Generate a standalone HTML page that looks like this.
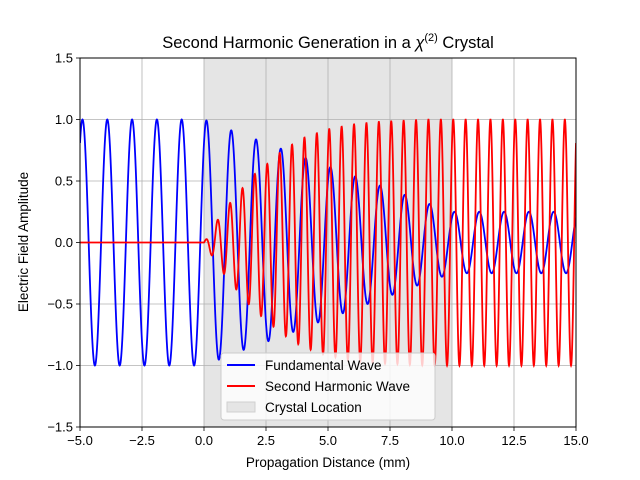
<!DOCTYPE html>
<html><head><meta charset="utf-8"><style>
body{margin:0;background:#fff;}
svg{display:block;font-family:"Liberation Sans","DejaVu Sans",sans-serif;}
</style></head><body>
<svg id="chart" width="640" height="480" viewBox="0 0 640 480"></svg>
<script>
// ---- data ----
const xTicks = [-5, -2.5, 0, 2.5, 5, 7.5, 10, 12.5, 15];
const xTickLabels = ["\u22125.0","\u22122.5","0.0","2.5","5.0","7.5","10.0","12.5","15.0"];
const yTicks = [-1.5, -1, -0.5, 0, 0.5, 1, 1.5];
const yTickLabels = ["\u22121.5","\u22121.0","\u22120.5","0.0","0.5","1.0","1.5"];
const crystalRange = [0, 10];
// envelope sample positions (mm) and amplitudes
const envX = [0, 0.5, 1, 1.5, 2, 2.5, 3, 3.5, 4, 5, 6, 7, 8, 9, 10];
const fundEnv = [1.0, 0.96, 0.92, 0.88, 0.845, 0.81, 0.77, 0.735, 0.695, 0.62, 0.545, 0.47, 0.395, 0.32, 0.25];
const shEnv = [0.0, 0.17, 0.31, 0.43, 0.55, 0.63, 0.72, 0.79, 0.85, 0.92, 0.96, 0.98, 0.99, 1.0, 1.0];
const fundPeriod = 1.0, fundPhase = 0.1;
const shPeriod = 0.5, shPhase = 0.05;

const X0=80, X1=576, Y0=58, Y1=427, xmin=-5, xmax=15, ymin=-1.5, ymax=1.5;
const sx = v => X0 + (v - xmin) / (xmax - xmin) * (X1 - X0);
const sy = v => Y1 - (v - ymin) / (ymax - ymin) * (Y1 - Y0);
const NS = "http://www.w3.org/2000/svg";
const svg = document.getElementById('chart');
function mk(tag, attrs, parent){ const e=document.createElementNS(NS,tag); for(const k in attrs) e.setAttribute(k,attrs[k]); (parent||svg).appendChild(e); return e; }
function interp(xs, ys, x){
  if (x <= xs[0]) return ys[0];
  if (x >= xs[xs.length-1]) return ys[ys.length-1];
  for (let i=1;i<xs.length;i++) if (x<=xs[i]) { const t=(x-xs[i-1])/(xs[i]-xs[i-1]); return ys[i-1]+t*(ys[i]-ys[i-1]); }
}

// crystal shading
const shade = mk('rect',{x:sx(crystalRange[0]),y:Y0,width:sx(crystalRange[1])-sx(crystalRange[0]),height:Y1-Y0,fill:'#e5e5e5'});



// grid
const grid = mk('g',{stroke:'#b0b0b0','stroke-width':0.8});


xTicks.forEach(v=>mk('line',{x1:sx(v),x2:sx(v),y1:Y0,y2:Y1},grid));
yTicks.forEach(v=>mk('line',{x1:X0,x2:X1,y1:sy(v),y2:sy(v)},grid));

// series
const clip = mk('clipPath',{id:'pc'}); mk('rect',{x:X0,y:Y0,width:X1-X0,height:Y1-Y0},clip);
const N = 3000;
let pf='', ps='';
for (let i=0;i<=N;i++){
  const x = xmin + (xmax-xmin)*i/N;
  const f = interp(envX, fundEnv, x) * Math.cos(2*Math.PI*(x-fundPhase)/fundPeriod);
  const s = (x < crystalRange[0] ? 0 : interp(envX, shEnv, x)) * Math.cos(2*Math.PI*(x-shPhase)/shPeriod);
  pf += (i?'L':'M') + sx(x).toFixed(2) + ',' + sy(f).toFixed(2);
  ps += (i?'L':'M') + sx(x).toFixed(2) + ',' + sy(s).toFixed(2);
}
const lf = mk('path',{d:pf,fill:'none',stroke:'#0000ff','stroke-width':1.8,'clip-path':'url(#pc)'});


const ls = mk('path',{d:ps,fill:'none',stroke:'#ff0000','stroke-width':1.8,'clip-path':'url(#pc)'});



// axes frame
const frame = mk('rect',{x:X0,y:Y0,width:X1-X0,height:Y1-Y0,fill:'none',stroke:'#000','stroke-width':1});



// ticks
xTicks.forEach((v,i)=>{
  mk('line',{x1:sx(v),x2:sx(v),y1:Y1,y2:Y1+4,stroke:'#000','stroke-width':0.8});
  const t = mk('text',{x:sx(v),y:Y1+18,'text-anchor':'middle','font-size':13,fill:'#000'});
  t.textContent = xTickLabels[i];
  
  
});
yTicks.forEach((v,i)=>{
  mk('line',{x1:X0-4,x2:X0,y1:sy(v),y2:sy(v),stroke:'#000','stroke-width':0.8});
  const t = mk('text',{x:X0-7,y:sy(v)+4.5,'text-anchor':'end','font-size':13,fill:'#000'});
  t.textContent = yTickLabels[i];
  
  
});
</script>
<svg width="640" height="480" style="position:absolute;left:0;top:0">
  <text x="328" y="48" text-anchor="middle" font-size="16.5">Second Harmonic Generation in a <tspan font-style="italic">χ</tspan><tspan font-size="11" dy="-7">(2)</tspan><tspan dy="7"> Crystal</tspan></text>
  <text x="328" y="467" text-anchor="middle" font-size="13.5">Propagation Distance (mm)</text>
  <text x="28" y="242" text-anchor="middle" font-size="13.5" transform="rotate(-90 28 242)">Electric Field Amplitude</text>
  <g>
    <rect x="221" y="353" width="214" height="67" rx="3" fill="#fff" fill-opacity="0.8" stroke="#cccccc" stroke-width="1"/>
    <g>
      <line x1="227" x2="255" y1="365" y2="365" stroke="#0000ff" stroke-width="2"/>
      <text x="265" y="370" font-size="13.5">Fundamental Wave</text>
    </g>
    <g>
      <line x1="227" x2="255" y1="386" y2="386" stroke="#ff0000" stroke-width="2"/>
      <text x="265" y="391" font-size="13.5">Second Harmonic Wave</text>
    </g>
    <g>
      <rect x="227" y="402" width="28" height="10" fill="#e5e5e5" stroke="#d0d0d0"/>
      <text x="265" y="412" font-size="13.5">Crystal Location</text>
    </g>
  </g>
</svg>
</body></html>
